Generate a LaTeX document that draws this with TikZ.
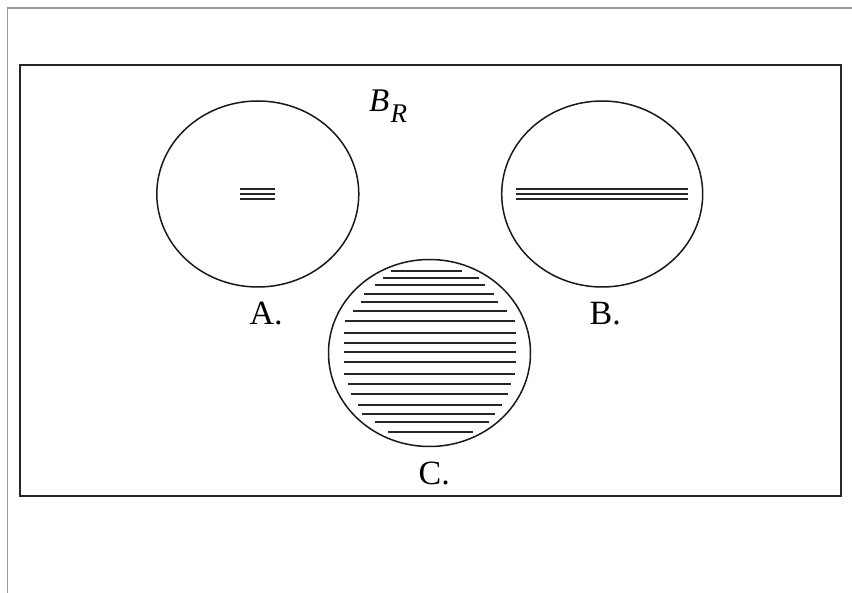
\documentclass[tikz,border=0pt]{standalone}
\usepackage{fontspec}
\setmainfont{Liberation Serif}
\begin{document}
\begin{tikzpicture}[x=1pt,y=-1pt,
  frame/.style={draw=black!85,line width=2pt},
  pageedge/.style={draw=black!40,line width=1.5pt},
  disc/.style={draw=black!90,line width=1.5pt},
  hatch/.style={draw=black!85,line width=2pt},
  lbl/.style={font=\fontsize{34}{40}\selectfont,anchor=base west,inner sep=0pt}]
\useasboundingbox (0,0) rectangle (852,593);
\draw[pageedge] (7.3,593) -- (7.3,7.8) -- (852,7.8);
\draw[frame] (20,65) rectangle (841,496);
% circles
\draw[disc] (257.8,194) ellipse [x radius=101,y radius=93];
\draw[disc] (602.2,194) ellipse [x radius=100.5,y radius=93];
\draw[disc] (429.5,353) ellipse [x radius=101,y radius=93.5];
% A lines
\foreach \y in {188.7,194,199.3} \draw[hatch,line width=1.7pt] (240,\y) -- (275,\y);
% B lines
\foreach \y in {188.7,194,199.3} \draw[hatch,line width=1.7pt] (516,\y) -- (688.3,\y);
% C lines
\foreach \y/\a/\b in {271/390.7/461.7, 277.7/383.3/478.7, 285/375/484.7, 293.7/364.3/493.7,
  301.7/360.7/497.7, 310.7/353.3/507.3, 321.3/345/514.7, 332.7/343.7/515.7,
  342.7/343.7/515.7, 352.3/343.7/515.7, 362.3/343.7/515.7, 374.3/344.3/514.7,
  384.3/348.3/511.3, 393.7/351/508.3, 405/357.7/502, 413.7/362/495,
  421.7/375/489.3, 431.7/388.3/473}
  \draw[hatch] (\a,\y) -- (\b,\y);
% labels
\node[lbl] (la) at (249.5,324.3) {A.};
\node[lbl] (lb) at (589.5,324.3) {B.};
\node[lbl] (lc) at (418.5,484.3) {C.};
\node[lbl,font=\fontsize{33}{38}\selectfont\itshape] (br) at (369,111.7) {B};
\node[lbl,font=\fontsize{27}{30}\selectfont\itshape] (brs) at (390.5,123) {R};
\end{tikzpicture}
\end{document}
